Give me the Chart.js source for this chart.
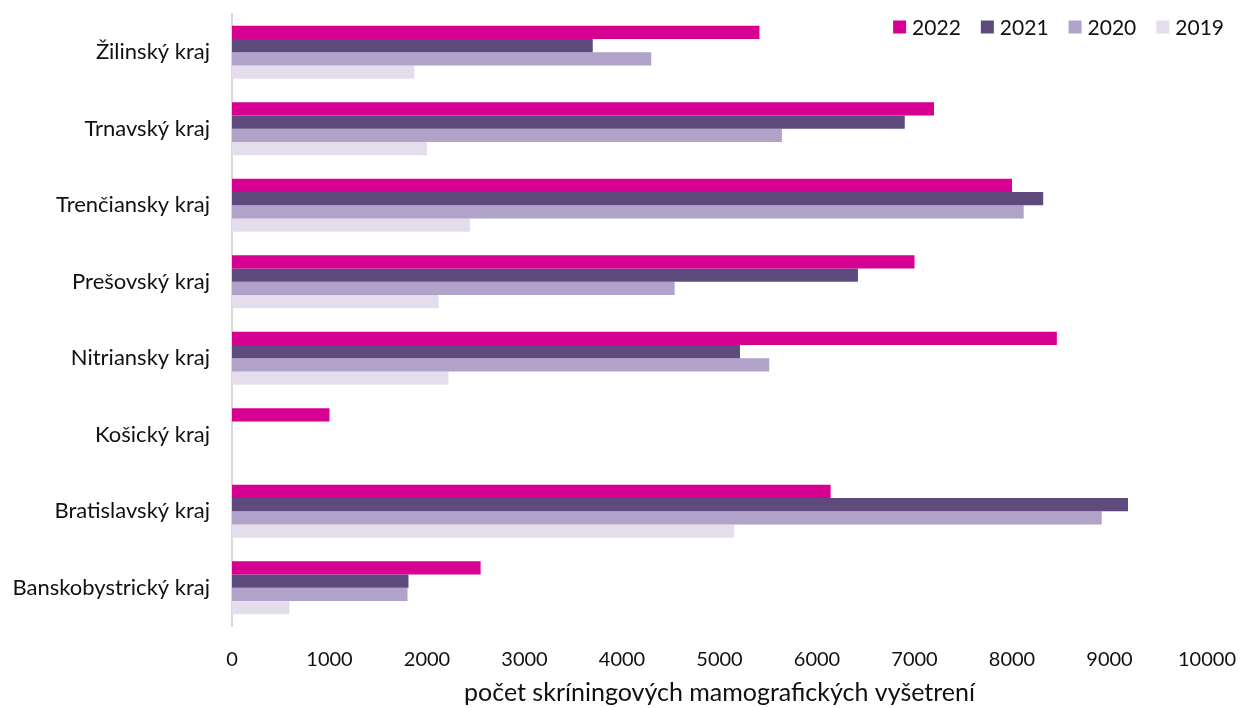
<!DOCTYPE html>
<html>
<head>
<meta charset="utf-8">
<script src="https://cdn.jsdelivr.net/npm/chart.js@4"></script>
<style>
html,body{margin:0;padding:0;background:#fff;}
#wrap{width:1242px;height:708px;}
</style>
</head>
<body>
<div id="wrap"><canvas id="c" width="1242" height="708"></canvas></div>
<script>
const categories = ["Žilinský kraj","Trnavský kraj","Trenčiansky kraj","Prešovský kraj","Nitriansky kraj","Košický kraj","Bratislavský kraj","Banskobystrický kraj"];
const years = ["2022","2021","2020","2019"];
const v2022 = [5410, 7200, 8000, 7000, 8460, 1000, 6140, 2550];
const v2021 = [3700, 6900, 8320, 6420, 5210, null, 9190, 1810];
const v2020 = [4300, 5640, 8120, 4540, 5510, null, 8920, 1800];
const v2019 = [1870, 2000, 2440, 2120, 2220, null, 5150, 590];
const xTitle = "počet skríningových mamografických vyšetrení";
const colors = ["#D60093","#5E4A7C","#B0A2C8","#E4DEEC"];
const series = [v2022, v2021, v2020, v2019];

const FONT = "Lato, 'Open Sans', sans-serif";

const topLegend = {
  id: 'topLegend',
  afterDraw(chart) {
    const ctx = chart.ctx;
    ctx.save();
    ctx.font = "21px " + FONT;
    ctx.textBaseline = 'middle';
    const box = 13, gapBox = 6, gapItem = 20, y = 27;
    const items = chart.data.datasets.map(d => ({ label: d.label, color: d.backgroundColor, w: ctx.measureText(d.label).width }));
    let total = items.reduce((s, it) => s + box + gapBox + it.w, 0) + gapItem * (items.length - 1);
    let x = 1224 - total;
    items.forEach(it => {
      ctx.fillStyle = it.color;
      ctx.fillRect(x, y - box / 2, box, box);
      x += box + gapBox;
      ctx.fillStyle = '#111';
      ctx.textAlign = 'left';
      ctx.fillText(it.label, x, y + 1);
      x += it.w + gapItem;
    });
    ctx.restore();
  }
};

new Chart(document.getElementById('c'), {
  type: 'bar',
  data: {
    labels: categories,
    datasets: years.map((y,i)=>({
      label: y,
      data: series[i],
      backgroundColor: colors[i],
      borderWidth: 0,
      categoryPercentage: 0.69,
      barPercentage: 1.0
    }))
  },
  options: {
    indexAxis: 'y',
    responsive: false,
    animation: false,
    layout: { padding: { left: 0, right: 0, top: 14, bottom: 0 } },
    plugins: {
      legend: { display: false },
      tooltip: { enabled: false }
    },
    scales: {
      x: {
        min: 0, max: 10000,
        grid: { display: false, drawTicks: false },
        border: { display: false },
        ticks: { stepSize: 1000, color: '#111', padding: 22, font: { family: FONT, size: 20 }, callback: v => String(v) },
        title: { display: true, text: xTitle, color: '#111', padding: { top: 8, bottom: 0 }, font: { family: FONT, size: 25 } },
        afterFit: (s) => { s.height = 82; s.paddingLeft = 0; s.paddingRight = 35; }
      },
      y: {
        grid: { display: false, drawTicks: false },
        border: { display: true, color: '#d9d9d9', width: 2 },
        ticks: { color: '#111', padding: 22, font: { family: FONT, size: 22 } },
        afterFit: (s) => { s.width = 232; s.paddingTop = 0; s.paddingBottom = 0; }
      }
    }
  },
  plugins: [topLegend]
});
</script>
</body>
</html>
